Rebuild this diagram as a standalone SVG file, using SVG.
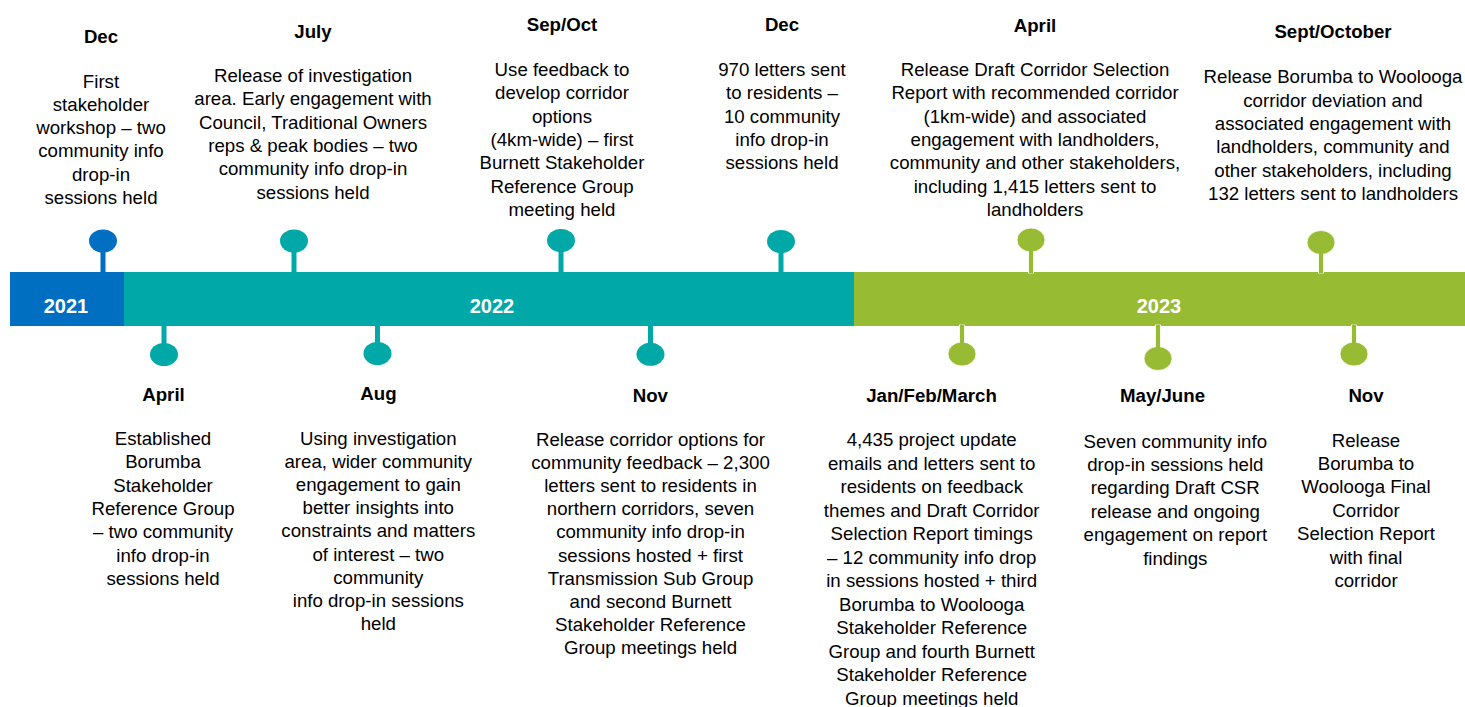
<svg xmlns="http://www.w3.org/2000/svg" width="1465" height="707" viewBox="0 0 1465 707">
<style>
.t{font-family:"Liberation Sans",Arial,sans-serif;font-size:18.67px;font-weight:bold;fill:#000;text-anchor:middle}
.b{font-family:"Liberation Sans",Arial,sans-serif;font-size:18.67px;fill:#000;text-anchor:middle}
.y{font-family:"Liberation Sans",Arial,sans-serif;font-size:20px;font-weight:bold;fill:#fff;text-anchor:middle}
.blue{fill:#006EC1}
.teal{fill:#00A9A8}
.green{fill:#97BC34}
.gs{fill:#97BC34;stroke:#fff;stroke-width:0.8}
</style>
<rect width="1465" height="707" fill="#fff"/>
<g id="bar">
<rect class="blue" x="10" y="272" width="114" height="54"/>
<rect class="teal" x="124" y="272" width="730" height="54"/>
<rect class="green" x="854" y="272" width="611" height="54"/>
<text class="y" x="66" y="313">2021</text>
<text class="y" x="492" y="313">2022</text>
<text class="y" x="1159" y="313">2023</text>
</g>
<g id="connectors">
<rect class="blue" x="100.5" y="250" width="5" height="23"/>
<rect class="teal" x="291.5" y="250" width="5" height="23"/>
<rect class="teal" x="558.5" y="250" width="5" height="23"/>
<rect class="teal" x="778.5" y="250" width="5" height="23"/>
<rect class="teal" x="161.5" y="325" width="5" height="22"/>
<rect class="teal" x="375" y="325" width="5" height="21"/>
<rect class="teal" x="648" y="325" width="5" height="22"/>
</g>
<g id="n-dec-2021">
<ellipse class="blue" cx="103" cy="241" rx="14" ry="11.5"/>
<text class="t" x="101" y="42.7">Dec</text>
<text class="b" y="87.5"><tspan x="101">First</tspan><tspan x="101" dy="23.3">stakeholder</tspan><tspan x="101" dy="23.3">workshop – two</tspan><tspan x="101" dy="23.3">community info</tspan><tspan x="101" dy="23.3">drop-in</tspan><tspan x="101" dy="23.3">sessions held</tspan></text>
</g>
<g id="n-july-2022">
<ellipse class="teal" cx="294" cy="241" rx="14" ry="11.5"/>
<text class="t" x="313" y="38">July</text>
<text class="b" y="82"><tspan x="313">Release of investigation</tspan><tspan x="313" dy="23.3">area. Early engagement with</tspan><tspan x="313" dy="23.3">Council, Traditional Owners</tspan><tspan x="313" dy="23.3">reps &amp; peak bodies – two</tspan><tspan x="313" dy="23.3">community info drop-in</tspan><tspan x="313" dy="23.3">sessions held</tspan></text>
</g>
<g id="n-sepoct-2022">
<ellipse class="teal" cx="561" cy="240.5" rx="14" ry="11.5"/>
<text class="t" x="562" y="31">Sep/Oct</text>
<text class="b" y="76"><tspan x="562">Use feedback to</tspan><tspan x="562" dy="23.3">develop corridor</tspan><tspan x="562" dy="23.3">options</tspan><tspan x="562" dy="23.3">(4km-wide) – first</tspan><tspan x="562" dy="23.3">Burnett Stakeholder</tspan><tspan x="562" dy="23.3">Reference Group</tspan><tspan x="562" dy="23.3">meeting held</tspan></text>
</g>
<g id="n-dec-2022">
<ellipse class="teal" cx="781" cy="241.5" rx="14" ry="11.5"/>
<text class="t" x="782" y="31">Dec</text>
<text class="b" y="76"><tspan x="782">970 letters sent</tspan><tspan x="782" dy="23.3">to residents –</tspan><tspan x="782" dy="23.3">10 community</tspan><tspan x="782" dy="23.3">info drop-in</tspan><tspan x="782" dy="23.3">sessions held</tspan></text>
</g>
<g id="n-april-2023">
<rect class="gs" x="1028.5" y="248" width="5" height="25"/>
<ellipse class="gs" cx="1031" cy="240" rx="14" ry="12"/>
<rect class="green" x="1029" y="250" width="4" height="23"/>
<text class="t" x="1035" y="32.3">April</text>
<text class="b" y="76"><tspan x="1035">Release Draft Corridor Selection</tspan><tspan x="1035" dy="23.3">Report with recommended corridor</tspan><tspan x="1035" dy="23.3">(1km-wide) and associated</tspan><tspan x="1035" dy="23.3">engagement with landholders,</tspan><tspan x="1035" dy="23.3">community and other stakeholders,</tspan><tspan x="1035" dy="23.3">including 1,415 letters sent to</tspan><tspan x="1035" dy="23.3">landholders</tspan></text>
</g>
<g id="n-septoct-2023">
<rect class="gs" x="1318.5" y="250" width="5" height="23"/>
<ellipse class="gs" cx="1321" cy="242.5" rx="14" ry="12"/>
<rect class="green" x="1319" y="252" width="4" height="21"/>
<text class="t" x="1333" y="37.5">Sept/October</text>
<text class="b" y="83.3"><tspan x="1333">Release Borumba to Woolooga</tspan><tspan x="1333" dy="23.3">corridor deviation and</tspan><tspan x="1333" dy="23.3">associated engagement with</tspan><tspan x="1333" dy="23.3">landholders, community and</tspan><tspan x="1333" dy="23.3">other stakeholders, including</tspan><tspan x="1333" dy="23.3">132 letters sent to landholders</tspan></text>
</g>
<g id="n-april-2022">
<ellipse class="teal" cx="164" cy="354.5" rx="14" ry="11.5"/>
<text class="t" x="163.5" y="401">April</text>
<text class="b" y="445"><tspan x="163">Established</tspan><tspan x="163" dy="23.3">Borumba</tspan><tspan x="163" dy="23.3">Stakeholder</tspan><tspan x="163" dy="23.3">Reference Group</tspan><tspan x="163" dy="23.3">– two community</tspan><tspan x="163" dy="23.3">info drop-in</tspan><tspan x="163" dy="23.3">sessions held</tspan></text>
</g>
<g id="n-aug-2022">
<ellipse class="teal" cx="377.5" cy="353.5" rx="14" ry="11.5"/>
<text class="t" x="378.5" y="400">Aug</text>
<text class="b" y="445"><tspan x="378.3">Using investigation</tspan><tspan x="378.3" dy="23.1">area, wider community</tspan><tspan x="378.3" dy="23.1">engagement to gain</tspan><tspan x="378.3" dy="23.1">better insights into</tspan><tspan x="378.3" dy="23.1">constraints and matters</tspan><tspan x="378.3" dy="23.1">of interest – two</tspan><tspan x="378.3" dy="23.1">community</tspan><tspan x="378.3" dy="23.1">info drop-in sessions</tspan><tspan x="378.3" dy="23.1">held</tspan></text>
</g>
<g id="n-nov-2022">
<ellipse class="teal" cx="650.5" cy="354.3" rx="14" ry="11.5"/>
<text class="t" x="650.3" y="402">Nov</text>
<text class="b" y="445.6"><tspan x="650.5">Release corridor options for</tspan><tspan x="650.5" dy="23.2">community feedback – 2,300</tspan><tspan x="650.5" dy="23.2">letters sent to residents in</tspan><tspan x="650.5" dy="23.2">northern corridors, seven</tspan><tspan x="650.5" dy="23.2">community info drop-in</tspan><tspan x="650.5" dy="23.2">sessions hosted + first</tspan><tspan x="650.5" dy="23.2">Transmission Sub Group</tspan><tspan x="650.5" dy="23.2">and second Burnett</tspan><tspan x="650.5" dy="23.2">Stakeholder Reference</tspan><tspan x="650.5" dy="23.2">Group meetings held</tspan></text>
</g>
<g id="n-janfebmar-2023">
<rect class="gs" x="959.5" y="325" width="5" height="24"/>
<ellipse class="gs" cx="962" cy="354" rx="14" ry="12"/>
<rect class="green" x="960" y="325" width="4" height="21"/>
<text class="t" x="931.5" y="401.6">Jan/Feb/March</text>
<text class="b" y="446"><tspan x="931.7">4,435 project update</tspan><tspan x="931.7" dy="23.5">emails and letters sent to</tspan><tspan x="931.7" dy="23.5">residents on feedback</tspan><tspan x="931.7" dy="23.5">themes and Draft Corridor</tspan><tspan x="931.7" dy="23.5">Selection Report timings</tspan><tspan x="931.7" dy="23.5">– 12 community info drop</tspan><tspan x="931.7" dy="23.5">in sessions hosted + third</tspan><tspan x="931.7" dy="23.5">Borumba to Woolooga</tspan><tspan x="931.7" dy="23.5">Stakeholder Reference</tspan><tspan x="931.7" dy="23.5">Group and fourth Burnett</tspan><tspan x="931.7" dy="23.5">Stakeholder Reference</tspan><tspan x="931.7" dy="23.5">Group meetings held</tspan></text>
</g>
<g id="n-mayjune-2023">
<rect class="gs" x="1155.5" y="325" width="5" height="28"/>
<ellipse class="gs" cx="1158" cy="358.5" rx="14" ry="12"/>
<rect class="green" x="1156" y="325" width="4" height="25"/>
<text class="t" x="1162.5" y="402.3">May/June</text>
<text class="b" y="447.6"><tspan x="1175.3">Seven community info</tspan><tspan x="1175.3" dy="23.4">drop-in sessions held</tspan><tspan x="1175.3" dy="23.4">regarding Draft CSR</tspan><tspan x="1175.3" dy="23.4">release and ongoing</tspan><tspan x="1175.3" dy="23.4">engagement on report</tspan><tspan x="1175.3" dy="23.4">findings</tspan></text>
</g>
<g id="n-nov-2023">
<rect class="gs" x="1351.5" y="325" width="5" height="24"/>
<ellipse class="gs" cx="1354" cy="354" rx="14" ry="12"/>
<rect class="green" x="1352" y="325" width="4" height="21"/>
<text class="t" x="1366" y="402">Nov</text>
<text class="b" y="446.6"><tspan x="1366">Release</tspan><tspan x="1366" dy="23.4">Borumba to</tspan><tspan x="1366" dy="23.4">Woolooga Final</tspan><tspan x="1366" dy="23.4">Corridor</tspan><tspan x="1366" dy="23.4">Selection Report</tspan><tspan x="1366" dy="23.4">with final</tspan><tspan x="1366" dy="23.4">corridor</tspan></text>
</g>
</svg>
